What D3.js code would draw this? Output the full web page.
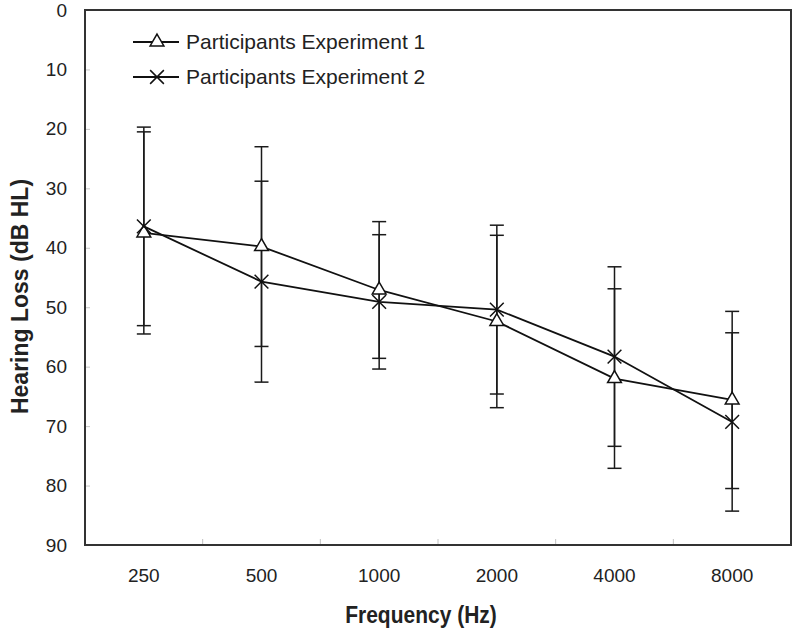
<!DOCTYPE html>
<html>
<head>
<meta charset="utf-8">
<script src="https://cdn.jsdelivr.net/npm/d3@7"></script>
<style>
  html, body { margin: 0; padding: 0; background: #fff; }
  svg { display: block; }
  text { font-family: "Liberation Sans", Arial, sans-serif; fill: #222; }
</style>
</head>
<body>
<svg id="chart" width="794" height="628"></svg>
<script>
// ---- data ----
const categories = ["250", "500", "1000", "2000", "4000", "8000"];
const exp1Mean = [37.5, 39.8, 47.1, 52.4, 62.0, 65.6];
const exp1SD   = [17.0, 16.8, 11.5, 14.5, 15.1, 14.9];
const exp2Mean = [36.4, 45.7, 49.1, 50.4, 58.3, 69.3];
const exp2SD   = [16.7, 16.9, 11.3, 14.2, 15.1, 15.0];
const yTicks = [0, 10, 20, 30, 40, 50, 60, 70, 80, 90];
const seriesNames = ["Participants Experiment 1", "Participants Experiment 2"];
const yTitle = "Hearing Loss (dB HL)";
const xTitle = "Frequency (Hz)";

// ---- layout ----
const svg = d3.select("#chart");
const L = 85, R = 791, T = 10, B = 545;

const x = d3.scaleBand().domain(categories).range([L, R]).padding(0);
const y = d3.scaleLinear().domain([0, 90]).range([T, B]);
const cx = c => x(c) + x.bandwidth() / 2;

// y axis
const yAxis = svg.append("g")
  .attr("transform", `translate(${L},0)`)
  .call(d3.axisLeft(y).tickValues(yTicks).tickSize(-5).tickPadding(18).tickFormat(d3.format("d")));
yAxis.select(".domain").remove();
yAxis.selectAll(".tick line").attr("stroke", "#c8c8c8").attr("stroke-width", 1);
yAxis.selectAll(".tick text").style("font-size", "19px").attr("fill", "#222");

// x axis labels
const xAxis = svg.append("g")
  .attr("transform", `translate(0,${B})`)
  .call(d3.axisBottom(x).tickSize(0).tickPadding(24));
xAxis.select(".domain").remove();
xAxis.selectAll(".tick text").style("font-size", "19px").attr("fill", "#222");

// category boundary ticks (inward)
svg.append("g").selectAll("line")
  .data(categories.slice(1))
  .join("line")
  .attr("x1", d => x(d)).attr("x2", d => x(d))
  .attr("y1", B).attr("y2", B - 6)
  .attr("stroke", "#c0c0c0").attr("stroke-width", 1);

// frame
svg.append("rect")
  .attr("x", L).attr("y", T).attr("width", R - L).attr("height", B - T)
  .attr("fill", "none").attr("stroke", "#333").attr("stroke-width", 2);

// titles
svg.append("text")
  .attr("transform", `translate(28,${(178 + 415) / 2}) rotate(-90)`)
  .attr("text-anchor", "middle")
  .style("font-size", "23px").style("font-weight", "bold")
  .text(yTitle);

svg.append("text")
  .attr("transform", "translate(421,623) scale(1,1.12)")
  .attr("text-anchor", "middle")
  .style("font-size", "21px").style("font-weight", "bold")
  .text(xTitle);

// ---- series ----
const series = [
  { name: seriesNames[0], mean: exp1Mean, sd: exp1SD, sym: d3.symbolTriangle, size: 82, fill: "#fff", sw: 1.5 },
  { name: seriesNames[1], mean: exp2Mean, sd: exp2SD, sym: d3.symbolTimes, size: 125, fill: "none", sw: 1.5 }
];

const capW = 7;
// error bars
series.forEach(s => {
  const g = svg.append("g").attr("stroke", "#1a1a1a").attr("stroke-width", 1.5);
  categories.forEach((c, i) => {
    const lo = s.mean[i] - s.sd[i], hi = s.mean[i] + s.sd[i];
    g.append("line").attr("x1", cx(c)).attr("x2", cx(c)).attr("y1", y(lo)).attr("y2", y(hi));
    g.append("line").attr("x1", cx(c) - capW).attr("x2", cx(c) + capW).attr("y1", y(lo)).attr("y2", y(lo));
    g.append("line").attr("x1", cx(c) - capW).attr("x2", cx(c) + capW).attr("y1", y(hi)).attr("y2", y(hi));
  });
});

// lines
const line = d3.line().x((d, i) => cx(categories[i])).y(d => y(d));
series.forEach(s => {
  svg.append("path").datum(s.mean)
    .attr("d", line).attr("fill", "none")
    .attr("stroke", "#111").attr("stroke-width", 1.8);
});

// markers
series.forEach(s => {
  svg.append("g").selectAll("path")
    .data(s.mean)
    .join("path")
    .attr("transform", (d, i) => `translate(${cx(categories[i])},${y(d)})`)
    .attr("d", d3.symbol(s.sym, s.size))
    .attr("fill", s.fill).attr("stroke", "#111").attr("stroke-width", s.sw);
});

// ---- legend ----
const legendRows = [42, 77];
series.forEach((s, k) => {
  const ly = legendRows[k];
  svg.append("line").attr("x1", 133).attr("x2", 179).attr("y1", ly).attr("y2", ly)
    .attr("stroke", "#111").attr("stroke-width", 1.8);
  svg.append("path").attr("transform", `translate(157,${ly})`)
    .attr("d", d3.symbol(s.sym, s.size))
    .attr("fill", s.fill).attr("stroke", "#111").attr("stroke-width", s.sw);
  svg.append("text").attr("x", 186).attr("y", ly + 7)
    .style("font-size", "21px").text(s.name);
});
</script>
</body>
</html>
